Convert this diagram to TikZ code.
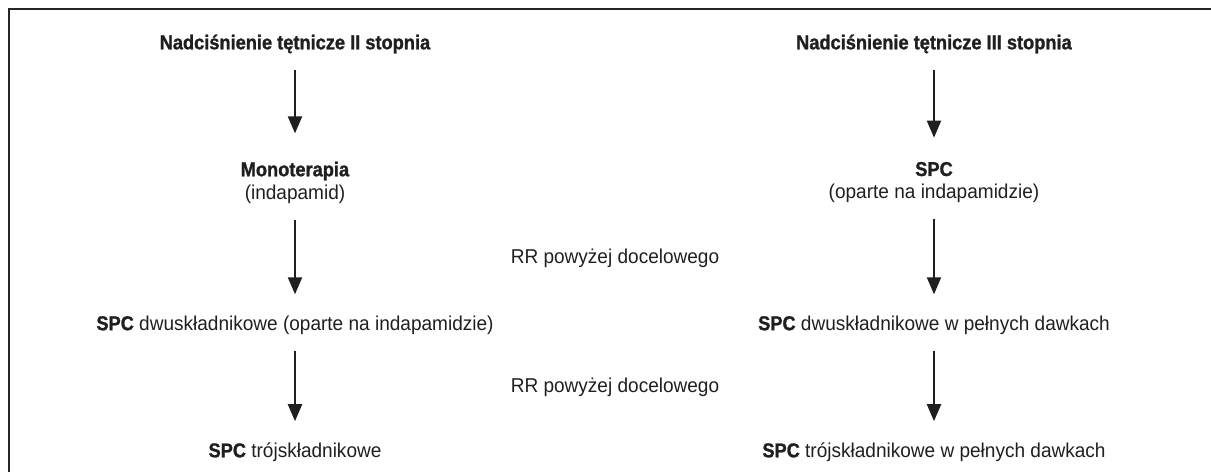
\documentclass[tikz,border=0pt]{standalone}
\usepackage{fontspec}
\setmainfont{Liberation Sans}[FakeStretch=0.95, BoldFeatures={FakeStretch=0.91, FakeBold=1.2}]
\usetikzlibrary{arrows.meta, positioning}

\begin{document}
\begin{tikzpicture}[
    txt/.style={inner sep=0pt, align=center, text=black!88, font=\fontsize{11.4}{13}\selectfont},
    flow/.style={line width=1.15pt, black!88, -{Triangle[length=3.4mm,width=2.8mm]}, shorten <=0.32cm, shorten >=0.42cm}
]
    \useasboundingbox (0,0) rectangle (24.22,-9.44);
    \clip (0,0) rectangle (24.22,-9.44);
    \draw[line width=0.9pt, black!85] (0.18,-0.18) rectangle (25,-10);

    % left column
    \node[txt] at (5.9,-0.88) (st2) {\textbf{Nadciśnienie tętnicze II stopnia}};
    \node[txt] at (5.9,-3.65) (mono) {\textbf{Monoterapia}\\(indapamid)};
    \node[txt] at (5.9,-6.5) (dwuL) {\textbf{SPC} dwuskładnikowe (oparte na indapamidzie)};
    \node[txt] at (5.9,-9.04) (trzyL) {\textbf{SPC} trójskładnikowe};

    % right column
    \node[txt] at (18.68,-0.88) (st3) {\textbf{Nadciśnienie tętnicze III stopnia}};
    \node[txt] at (18.68,-3.65) (spc) {\textbf{SPC}\\(oparte na indapamidzie)};
    \node[txt] at (18.68,-6.5) (dwuR) {\textbf{SPC} dwuskładnikowe w pełnych dawkach};
    \node[txt] at (18.68,-9.04) (trzyR) {\textbf{SPC} trójskładnikowe w pełnych dawkach};

    % middle
    \node[txt] at (12.3,-5.16) (rr1) {RR powyżej docelowego};
    \node[txt] at (12.3,-7.74) (rr2) {RR powyżej docelowego};

    \draw[flow, shorten >=0.56cm] (st2) -- (mono);
    \draw[flow] (mono) -- (dwuL);
    \draw[flow] (dwuL) -- (trzyL);
    \draw[flow, shorten >=0.48cm] (st3) -- (spc);
    \draw[flow] (spc) -- (dwuR);
    \draw[flow] (dwuR) -- (trzyR);
\end{tikzpicture}
\end{document}
